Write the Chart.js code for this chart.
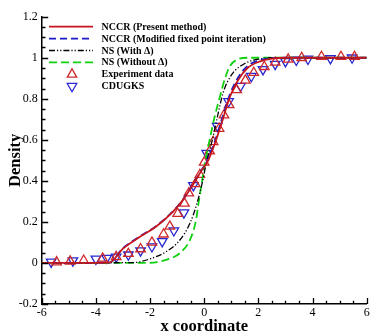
<!DOCTYPE html>
<html>
<head>
<meta charset="utf-8">
<script src="https://cdn.jsdelivr.net/npm/chart.js@4/dist/chart.umd.min.js"></script>
<style>
  html, body { margin: 0; padding: 0; background: #fff; }
  canvas { display: block; }
</style>
</head>
<body>
<canvas id="myChart" width="374" height="332"></canvas>
<script>
"use strict";
// values
const nccrX = [-6, -3.5, -3.0, -2.4, -1.75, -1.15, -0.77, -0.4, -0.1, 0.16, 0.4, 0.64, 0.95, 1.26, 1.6, 2.06, 2.5, 3.0, 6];
const nccrY = [0, 0.002, 0.07, 0.125, 0.18, 0.25, 0.31, 0.385, 0.45, 0.503, 0.585, 0.68, 0.81, 0.893, 0.95, 0.982, 0.996, 1.0, 1.0];
const modX = [-6, -3.5, -3.0, -2.4, -1.75, -1.15, -0.77, -0.4, -0.1, 0.16, 0.4, 0.64, 0.95, 1.26, 1.6, 2.06, 2.5, 3.0, 6];
const modY = [0, 0.002, 0.072, 0.127, 0.182, 0.252, 0.312, 0.387, 0.452, 0.51, 0.595, 0.695, 0.822, 0.905, 0.96, 0.988, 0.998, 1.0, 1.0];
const nsWithX = [-6, -2.6, -2.0, -1.38, -0.89, -0.52, -0.28, -0.09, 0.1, 0.3, 0.5, 0.7, 1.0, 1.5, 2.1, 2.6, 6];
const nsWithY = [0, 0.002, 0.02, 0.057, 0.113, 0.195, 0.284, 0.38, 0.5, 0.6, 0.72, 0.83, 0.915, 0.972, 0.995, 1.0, 1.0];
const nsNoX = [-6, -2.1, -1.38, -0.89, -0.5, -0.3, -0.2, -0.09, 0.03, 0.2, 0.4, 0.58, 0.77, 0.95, 1.2, 1.6, 6];
const nsNoY = [0, 0, 0.016, 0.049, 0.12, 0.21, 0.3, 0.39, 0.49, 0.6, 0.72, 0.81, 0.9, 0.96, 0.99, 1.0, 1.0];
const expX = [-5.45, -4.95, -4.45, -3.75, -3.25, -2.8, -2.35, -1.93, -1.5, -1.27, -0.98, -0.73, -0.57, -0.33, -0.16, 0.0, 0.2, 0.33, 0.55, 0.73, 0.92, 1.2, 1.52, 1.83, 2.22, 2.62, 3.1, 3.6, 4.33, 5.05, 5.55];
const expY = [0.004, 0.008, 0.012, 0.022, 0.03, 0.045, 0.068, 0.1, 0.14, 0.178, 0.24, 0.29, 0.34, 0.385, 0.43, 0.49, 0.545, 0.59, 0.655, 0.72, 0.77, 0.843, 0.89, 0.927, 0.956, 0.977, 0.992, 1.0, 1.005, 1.005, 1.005];
const cdX = [-5.65, -4.85, -4.0, -3.6, -3.25, -2.8, -2.35, -1.93, -1.55, -1.12, -0.75, -0.4, 0.09, 0.48, 0.9, 1.34, 1.74, 2.17, 2.62, 3.0, 3.4, 3.83, 4.66, 5.46];
const cdY = [0.005, 0.011, 0.02, 0.024, 0.03, 0.04, 0.06, 0.08, 0.105, 0.158, 0.245, 0.378, 0.535, 0.667, 0.787, 0.862, 0.91, 0.943, 0.969, 0.982, 0.989, 0.994, 0.997, 1.0];
const xTicks = [-6, -4, -2, 0, 2, 4, 6];
const yTicks = [-0.2, 0, 0.2, 0.4, 0.6, 0.8, 1, 1.2];

const pts = (xs, ys) => xs.map((x, i) => ({ x: x, y: ys[i] }));
const serif = "'Liberation Serif', 'Times New Roman', serif";

const data = {
  datasets: [
    {
      label: "NCCR (Present method)",
      data: pts(nccrX, nccrY),
      borderColor: "#c4161c",
      borderWidth: 1.8,
      pointRadius: 0,
      cubicInterpolationMode: "monotone",
    },
    {
      label: "NCCR (Modified fixed point iteration)",
      data: pts(modX, modY),
      borderColor: "#1a1ac8",
      borderWidth: 1.8,
      borderDash: [7, 4],
      pointRadius: 0,
      cubicInterpolationMode: "monotone",
    },
    {
      label: "NS (With \u0394)",
      data: pts(nsWithX, nsWithY),
      borderColor: "#000000",
      borderWidth: 1.3,
      borderDash: [6, 2, 1.2, 2, 1.2, 2],
      pointRadius: 0,
      cubicInterpolationMode: "monotone",
    },
    {
      label: "NS (Without \u0394)",
      data: pts(nsNoX, nsNoY),
      borderColor: "#10d010",
      borderWidth: 1.8,
      borderDash: [8, 4],
      pointRadius: 0,
      cubicInterpolationMode: "monotone",
    },
    {
      label: "Experiment data",
      data: pts(expX, expY),
      showLine: false,
      pointStyle: "triangle",
      pointRadius: 5.5,
      pointBorderWidth: 1.3,
      pointBorderColor: "#d02828",
      pointBackgroundColor: "rgba(0,0,0,0)",
    },
    {
      label: "CDUGKS",
      data: pts(cdX, cdY),
      showLine: false,
      pointStyle: "triangle",
      pointRotation: 180,
      pointRadius: 5.5,
      pointBorderWidth: 1.3,
      pointBorderColor: "#2828d0",
      pointBackgroundColor: "rgba(0,0,0,0)",
    },
  ],
};

// inward major + minor ticks
const tickMarks = {
  id: "tickMarks",
  afterDraw(chart) {
    const ctx = chart.ctx;
    const xs = chart.scales.x, ys = chart.scales.y;
    const x0 = xs.left, y0 = ys.bottom;
    ctx.save();
    ctx.strokeStyle = "#000";
    ctx.lineWidth = 1.3;
    ctx.beginPath();
    for (let v = -6; v <= 6.001; v += 0.5) {
      const px = Math.round(xs.getPixelForValue(v)) + 0.5;
      const major = Math.abs(v / 2 - Math.round(v / 2)) < 1e-6;
      ctx.moveTo(px, y0);
      ctx.lineTo(px, y0 - (major ? 6 : 3.3));
    }
    for (let v = -0.2; v <= 1.2001; v += 0.05) {
      const py = Math.round(ys.getPixelForValue(v)) + 0.5;
      const major = Math.abs(v / 0.2 - Math.round(v / 0.2)) < 1e-6;
      ctx.moveTo(x0, py);
      ctx.lineTo(x0 + (major ? 6.5 : 3.8), py);
    }
    ctx.stroke();
    ctx.restore();
  },
};

// legend inside the plot area, top left
const innerLegend = {
  id: "innerLegend",
  afterDraw(chart) {
    const ctx = chart.ctx;
    const x1 = 49, x2 = 93, tx = 101.5;
    ctx.save();
    ctx.font = "bold 10px " + serif;
    ctx.textBaseline = "middle";
    chart.data.datasets.forEach((ds, i) => {
      const y = 26.7 + i * 11.9;
      if (ds.showLine === false) {
        ctx.save();
        ctx.strokeStyle = ds.pointBorderColor;
        ctx.fillStyle = "rgba(0,0,0,0)";
        ctx.lineWidth = ds.pointBorderWidth;
        Chart.helpers.drawPoint(ctx, {
          pointStyle: ds.pointStyle,
          rotation: ds.pointRotation || 0,
          radius: ds.pointRadius,
          borderWidth: ds.pointBorderWidth,
        }, 72, y);
        ctx.restore();
      } else {
        ctx.save();
        ctx.strokeStyle = ds.borderColor;
        ctx.lineWidth = ds.borderWidth;
        ctx.setLineDash(ds.borderDash || []);
        ctx.beginPath();
        ctx.moveTo(x1, y);
        ctx.lineTo(x2, y);
        ctx.stroke();
        ctx.restore();
      }
      ctx.fillStyle = "#000";
      ctx.fillText(ds.label, tx, y + 0.5);
    });
    ctx.restore();
  },
};

const myChart = new Chart(document.getElementById("myChart"), {
  type: "line",
  data: data,
  plugins: [tickMarks, innerLegend],
  options: {
    responsive: false,
    animation: false,
    devicePixelRatio: 1,
    layout: { padding: { top: 16.7, right: 7.3, left: 0, bottom: 0 } },
    plugins: {
      legend: { display: false }, //drawn by innerLegend
      tooltip: { enabled: false },
    },
    scales: {
      x: {
        type: "linear",
        min: -6,
        max: 6,
        afterBuildTicks: (s) => { s.ticks = xTicks.map((v) => ({ value: v })); },
        afterFit: (s) => { s.height = 28; },
        grid: { display: false, drawTicks: false },
        border: { display: true, color: "#000", width: 1.5 },
        ticks: {
          padding: 2,
          color: "#000",
          font: { family: serif, size: 12 },
          maxRotation: 0,
        },
        title: {
          display: true,
          text: "x coordinate",
          color: "#000",
          font: { family: serif, size: 16.5, weight: "bold", lineHeight: 0.6 },
          padding: { top: 0, bottom: 0 },
        },
      },
      y: {
        type: "linear",
        min: -0.2,
        max: 1.2,
        afterBuildTicks: (s) => { s.ticks = yTicks.map((v) => ({ value: v })); },
        afterFit: (s) => { s.width = 41.7; },
        grid: { display: false, drawTicks: false },
        border: { display: true, color: "#000", width: 1.5 },
        ticks: {
          padding: 4,
          color: "#000",
          font: { family: serif, size: 12 },
          callback: (v) => String(Math.round(v * 10) / 10),
        },
        title: {
          display: true,
          text: "Density",
          color: "#000",
          font: { family: serif, size: 16.5, weight: "bold", lineHeight: 1 },
          padding: { top: 7, bottom: 0 },
        },
      },
    },
  },
});
</script>
</body>
</html>
